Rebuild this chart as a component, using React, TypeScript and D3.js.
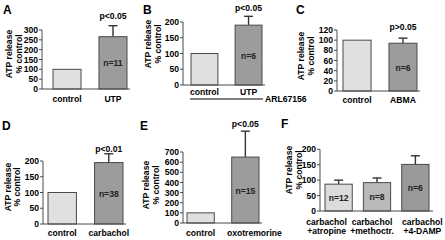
import React from "react";
import * as d3 from "d3";

// ---------- data ----------
const aCats = ["control", "UTP"];
const aVals = [100, 266];
const aErrs = [0, 56];
const aTicks = [0, 50, 100, 150, 200, 250, 300];

const bCats = ["control", "UTP"];
const bVals = [100, 190];
const bErrs = [0, 28];
const bTicks = [0, 50, 100, 150, 200];

const cCats = ["control", "ABMA"];
const cVals = [100, 94];
const cErrs = [0, 10];
const cTicks = [0, 20, 40, 60, 80, 100, 120];

const dCats = ["control", "carbachol"];
const dVals = [100, 195];
const dErrs = [0, 28];
const dTicks = [0, 50, 100, 150, 200];

const eCats = ["control", "oxotremorine"];
const eVals = [100, 650];
const eErrs = [0, 255];
const eTicks = [0, 100, 200, 300, 400, 500, 600, 700];

const fCats = [["carbachol", "+atropine"], ["carbachol", "+methoctr."], ["carbachol", "+4-DAMP"]];
const fVals = [87, 92, 151];
const fErrs = [13, 15, 28];
const fTicks = [0, 50, 100, 150, 200];

const nA = ["", "n=11"];
const nB = ["", "n=6"];
const nC = ["", "n=6"];
const nD = ["", "n=38"];
const nE = ["", "n=15"];
const nF = ["n=12", "n=8", "n=6"];

// ---------- layout ----------
const FONT = "'Liberation Sans', Arial, Helvetica, sans-serif";
const STROKE = "#4a4a4a";
const FS = 8.6;

type Panel = {
  letter: string; lx: number; ly: number;
  axisX: number; y0: number; yTop: number; yMax: number;
  barStart: number; barEnd: number; baseEnd: number; pad: number;
  titleX: number; titleCy: number;
  p?: string; pY?: number; labOff: number; labDx: number[];
  cats: (string | string[])[]; vals: number[]; errs: number[]; ticks: number[]; ns: string[];
  fills: string[];
};

const panels: Panel[] = [
  { letter: "A", lx: 3, ly: 14, axisX: 42, y0: 89, yTop: 30, yMax: 300, barStart: 53, barEnd: 127, baseEnd: 130, pad: 0.39,
    titleX: 13, titleCy: 54, p: "p<0.05", pY: 19, labOff: 12.5, labDx: [0, 0],
    cats: aCats, vals: aVals, errs: aErrs, ticks: aTicks, ns: nA, fills: ["#e0e0e0", "#9c9c9c"] },
  { letter: "B", lx: 143, ly: 14, axisX: 183, y0: 85, yTop: 22, yMax: 200, barStart: 191, barEnd: 262, baseEnd: 265, pad: 0.39,
    titleX: 152, titleCy: 44, p: "p<0.05", pY: 11, labOff: 9.5, labDx: [0, 0],
    cats: bCats, vals: bVals, errs: bErrs, ticks: bTicks, ns: nB, fills: ["#e0e0e0", "#9c9c9c"] },
  { letter: "C", lx: 296, ly: 14, axisX: 337, y0: 91, yTop: 30, yMax: 120, barStart: 343, barEnd: 417, baseEnd: 420, pad: 0.39,
    titleX: 305, titleCy: 56, p: "p>0.05", pY: 29.5, labOff: 11.5, labDx: [0, 0],
    cats: cCats, vals: cVals, errs: cErrs, ticks: cTicks, ns: nC, fills: ["#e0e0e0", "#9c9c9c"] },
  { letter: "D", lx: 2, ly: 130, axisX: 43, y0: 224, yTop: 161, yMax: 200, barStart: 48, barEnd: 123, baseEnd: 126, pad: 0.39,
    titleX: 11.5, titleCy: 187, p: "p<0.01", pY: 152, labOff: 11.5, labDx: [0, 0],
    cats: dCats, vals: dVals, errs: dErrs, ticks: dTicks, ns: nD, fills: ["#e0e0e0", "#9c9c9c"] },
  { letter: "E", lx: 140, ly: 130, axisX: 183, y0: 223, yTop: 152, yMax: 700, barStart: 187, barEnd: 259, baseEnd: 262, pad: 0.39,
    titleX: 150, titleCy: 185, p: "p<0.05", pY: 127, labOff: 12.5, labDx: [0, 9],
    cats: eCats, vals: eVals, errs: eErrs, ticks: eTicks, ns: nE, fills: ["#e0e0e0", "#9c9c9c"] },
  { letter: "F", lx: 281, ly: 128, axisX: 320, y0: 211, yTop: 149.3, yMax: 200, barStart: 325, barEnd: 429, baseEnd: 433, pad: 0.29,
    titleX: 293, titleCy: 170, labOff: 13.5, labDx: [-12, -5, 7],
    cats: fCats, vals: fVals, errs: fErrs, ticks: fTicks, ns: nF, fills: ["#dcdcdc", "#b9b9b9", "#9a9a9a"] },
];

function BarPanel({ pn }: { pn: Panel }) {
  const y = d3.scaleLinear().domain([0, pn.yMax]).range([pn.y0, pn.yTop]);
  const x = d3.scaleBand<number>()
    .domain(pn.cats.map((_, i) => i))
    .range([pn.barStart, pn.barEnd])
    .paddingInner(pn.pad)
    .paddingOuter(0);
  const bw = x.bandwidth();
  const lastCenter = (x(pn.cats.length - 1) as number) + bw / 2;
  return (
    <g>
      <text x={pn.lx} y={pn.ly} fontSize={12} fontWeight="bold" fontFamily={FONT}>{pn.letter}</text>
      <g transform={`translate(${pn.titleX},${pn.titleCy}) rotate(-90)`} fontFamily={FONT} fontWeight="bold" fontSize={FS} textAnchor="middle">
        <text x={0} y={-1}>ATP release</text>
        <text x={0} y={8.5}>% control</text>
      </g>
      {pn.cats.map((c, i) => {
        const bx = x(i) as number;
        const top = y(pn.vals[i]);
        const etop = y(pn.vals[i] + pn.errs[i]);
        const cx = bx + bw / 2;
        const lx = cx + pn.labDx[i];
        return (
          <g key={i}>
            {pn.errs[i] > 0 && (
              <g stroke="#333" strokeWidth={1.4}>
                <line x1={cx} x2={cx} y1={top} y2={etop} />
                <line x1={cx - 4.5} x2={cx + 4.5} y1={etop} y2={etop} />
              </g>
            )}
            <rect x={bx} y={top} width={bw} height={pn.y0 - top} fill={pn.fills[i]} stroke={STROKE} strokeWidth={1} />
            {pn.ns[i] && (
              <text x={cx} y={(top + pn.y0) / 2 + 3.5} textAnchor="middle" fontSize={FS} fontWeight="bold" fontFamily={FONT} fill="#222">{pn.ns[i]}</text>
            )}
            {Array.isArray(c) ? (
              <text textAnchor="middle" fontSize={FS} fontWeight="bold" fontFamily={FONT}>
                <tspan x={lx} y={pn.y0 + pn.labOff}>{c[0]}</tspan>
                <tspan x={lx} y={pn.y0 + pn.labOff + 9.5}>{c[1]}</tspan>
              </text>
            ) : (
              <text x={lx} y={pn.y0 + pn.labOff} textAnchor="middle" fontSize={FS} fontWeight="bold" fontFamily={FONT}>{c}</text>
            )}
          </g>
        );
      })}
      {pn.p && (
        <text x={lastCenter} y={pn.pY} textAnchor="middle" fontSize={FS} fontWeight="bold" fontFamily={FONT}>{pn.p}</text>
      )}
      <line x1={pn.axisX} x2={pn.axisX} y1={pn.y0} y2={pn.yTop} stroke={STROKE} strokeWidth={1} />
      <line x1={pn.axisX} x2={pn.baseEnd} y1={pn.y0} y2={pn.y0} stroke={STROKE} strokeWidth={1} />
      {pn.ticks.map((t) => (
        <g key={t}>
          <line x1={pn.axisX - 3} x2={pn.axisX} y1={y(t)} y2={y(t)} stroke={STROKE} strokeWidth={1} />
          <text x={pn.axisX - 4} y={y(t) + 3.1} textAnchor="end" fontSize={FS} fontWeight="bold" fontFamily={FONT}>{t}</text>
        </g>
      ))}
    </g>
  );
}

export default function App() {
  const b = panels[1];
  return (
    <svg width={445} height={240} style={{ position: "absolute", left: 0, top: 0, background: "#fff" }}>
      <rect width={445} height={240} fill="#fff" />
      {panels.map((pn) => <BarPanel key={pn.letter} pn={pn} />)}
      <line x1={b.barStart - 1} x2={b.barEnd + 1} y1={99} y2={99} stroke="#000" strokeWidth={1.2} />
      <text x={b.barEnd + 3} y={102} fontSize={FS} fontWeight="bold" fontFamily={FONT}>ARL67156</text>
    </svg>
  );
}
